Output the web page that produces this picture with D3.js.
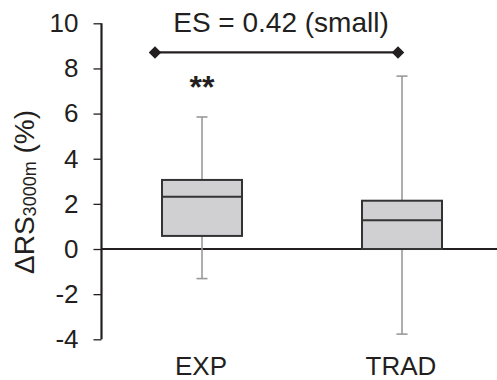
<!DOCTYPE html>
<html>
<head>
<meta charset="utf-8">
<script src="https://cdn.jsdelivr.net/npm/d3@7"></script>
<style>
  html, body { margin: 0; padding: 0; background: #fff; }
  svg { display: block; }
  text { font-family: "Liberation Sans", Arial, Helvetica, sans-serif; fill: #231f20; }
</style>
</head>
<body>
<svg id="chart" width="497" height="380"></svg>
<script>
// Change in running speed at 3000 m, per training group
const groups = ["EXP", "TRAD"];
const whiskerLow  = [-1.31, -3.77];
const q1          = [0.58, 0.0];
const median      = [2.31, 1.27];
const q3          = [3.06, 2.14];
const whiskerHigh = [5.85, 7.66];
const yTicks = [-4, -2, 0, 2, 4, 6, 8, 10];
const yTickLabels = ["-4", "-2", "0", "2", "4", "6", "8", "10"];
const effectSize = { label: "ES = 0.42 (small)", y: 8.71 };
const significance = ["**", ""];

const svg = d3.select("#chart");
const W = 497, H = 380;

const y = d3.scaleLinear().domain([-4, 10]).range([339.3, 23.3]);
const x = d3.scalePoint().domain(groups).range([102, 502]).padding(0.5);

const boxW = 80, capW = 11;

// y axis
const yAxis = d3.axisLeft(y).tickValues(yTicks).tickSize(8).tickPadding(15)
  .tickFormat((d, i) => yTickLabels[i]);
const gy = svg.append("g").attr("transform", "translate(101.5,0)").call(yAxis);
gy.select(".domain").attr("stroke", "#231f20").attr("stroke-width", 2.2).attr("d", `M0,${y(10)}V${y(-4)}`);
gy.selectAll(".tick line").attr("stroke", "#231f20").attr("stroke-width", 1.3);
gy.selectAll(".tick text")
  .attr("font-size", 26).attr("font-family", "Liberation Sans, Arial, sans-serif")
  .attr("fill", "#231f20");

// zero reference line
svg.append("line")
  .attr("x1", 101).attr("x2", W)
  .attr("y1", y(0)).attr("y2", y(0))
  .attr("stroke", "#231f20").attr("stroke-width", 2.2);

const data = groups.map((g, i) => ({
  g, lo: whiskerLow[i], q1: q1[i], med: median[i], q3: q3[i], hi: whiskerHigh[i], sig: significance[i]
}));

const boxes = svg.append("g").selectAll("g").data(data).join("g");

// whiskers
boxes.append("line")
  .attr("x1", d => x(d.g)).attr("x2", d => x(d.g))
  .attr("y1", d => y(d.hi)).attr("y2", d => y(d.q3))
  .attr("stroke", "#9a9a9a").attr("stroke-width", 1.6);
boxes.append("line")
  .attr("x1", d => x(d.g)).attr("x2", d => x(d.g))
  .attr("y1", d => y(d.q1)).attr("y2", d => y(d.lo))
  .attr("stroke", "#9a9a9a").attr("stroke-width", 1.6);
boxes.append("line")
  .attr("x1", d => x(d.g) - capW / 2).attr("x2", d => x(d.g) + capW / 2)
  .attr("y1", d => y(d.hi)).attr("y2", d => y(d.hi))
  .attr("stroke", "#9a9a9a").attr("stroke-width", 1.6);
boxes.append("line")
  .attr("x1", d => x(d.g) - capW / 2).attr("x2", d => x(d.g) + capW / 2)
  .attr("y1", d => y(d.lo)).attr("y2", d => y(d.lo))
  .attr("stroke", "#9a9a9a").attr("stroke-width", 1.6);

// interquartile boxes
boxes.append("rect")
  .attr("x", d => x(d.g) - boxW / 2).attr("width", boxW)
  .attr("y", d => y(d.q3)).attr("height", d => y(d.q1) - y(d.q3))
  .attr("fill", "#d0d0d2").attr("stroke", "#333").attr("stroke-width", 2);
boxes.append("line")
  .attr("x1", d => x(d.g) - boxW / 2).attr("x2", d => x(d.g) + boxW / 2)
  .attr("y1", d => y(d.med)).attr("y2", d => y(d.med))
  .attr("stroke", "#333").attr("stroke-width", 2);

// significance marks
boxes.append("text")
  .attr("x", d => x(d.g)).attr("y", 98)
  .attr("text-anchor", "middle").attr("font-size", 32).attr("font-weight", "bold")
  .text(d => d.sig);

// category labels
svg.append("g").selectAll("text").data(groups).join("text")
  .attr("x", d => x(d) - 1).attr("y", 375)
  .attr("text-anchor", "middle").attr("font-size", 26)
  .text(d => d);

// effect size bracket
const bx1 = x("EXP") - 47, bx2 = x("TRAD") - 4, by = y(effectSize.y);
svg.append("line")
  .attr("x1", bx1).attr("x2", bx2).attr("y1", by).attr("y2", by)
  .attr("stroke", "#231f20").attr("stroke-width", 2.2);
const diamond = d3.symbol().type(d3.symbolDiamond2).size(100);
svg.append("g").selectAll("path").data([bx1, bx2]).join("path")
  .attr("d", diamond)
  .attr("transform", d => `translate(${d},${by})`)
  .attr("fill", "#231f20");
svg.append("text")
  .attr("x", 281).attr("y", 31.7)
  .attr("text-anchor", "middle").attr("font-size", 28)
  .text(effectSize.label);

// y axis title
const yt = svg.append("text")
  .attr("transform", "translate(33.5,192) rotate(-90)")
  .attr("text-anchor", "middle").attr("font-size", 28);
yt.append("tspan").text("ΔRS");
yt.append("tspan").attr("font-size", 18).attr("dy", 2).text("3000m");
yt.append("tspan").attr("dy", -2).text(" (%)");
</script>
</body>
</html>
